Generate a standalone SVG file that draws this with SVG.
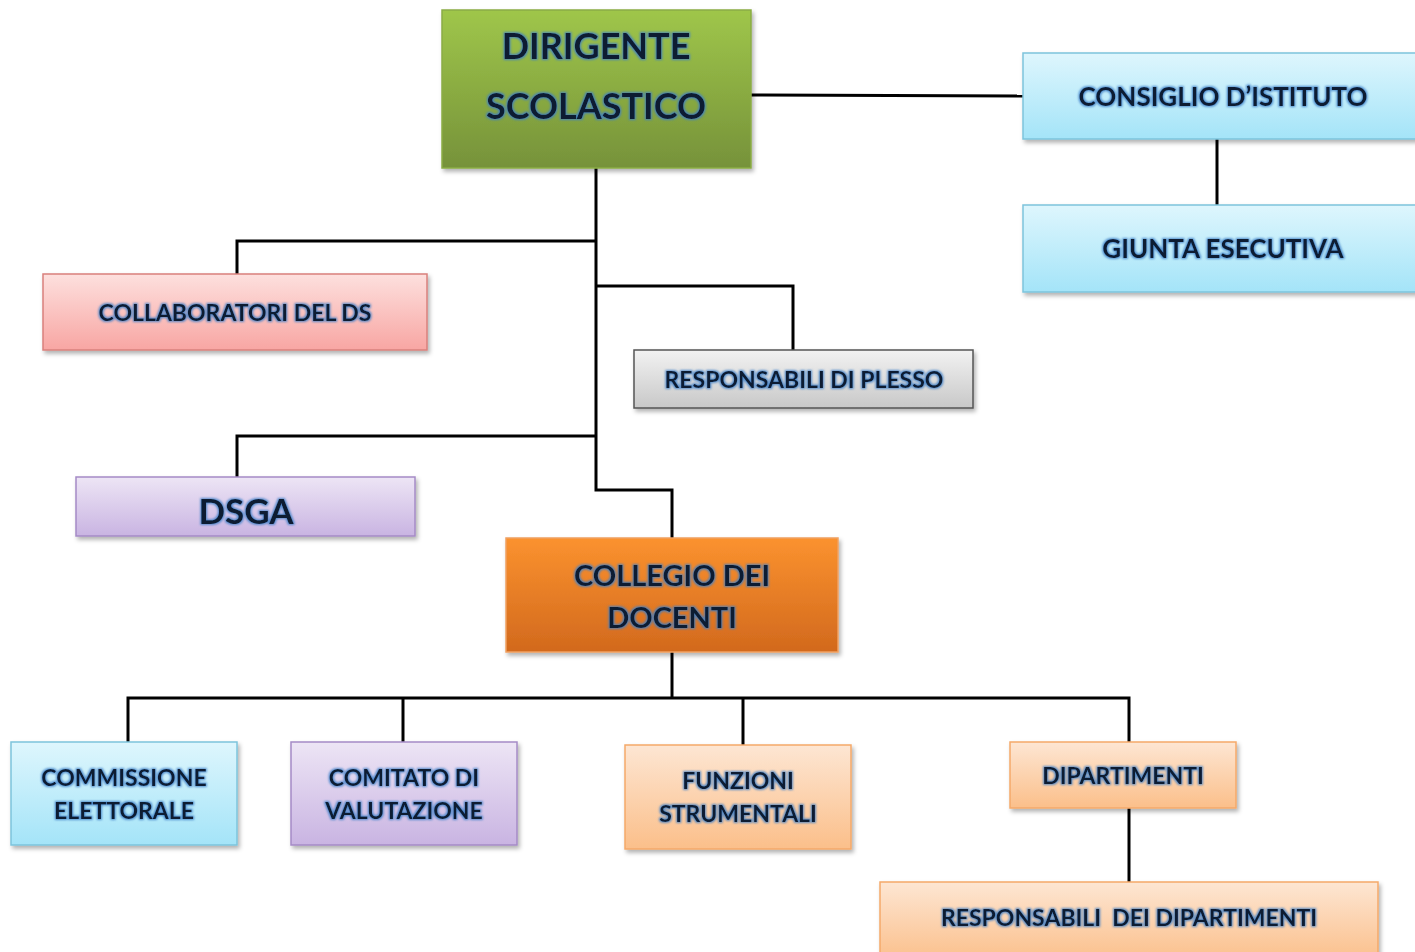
<svg xmlns="http://www.w3.org/2000/svg" width="1415" height="952" viewBox="0 0 1415 952">
<defs>
<linearGradient id="gGreen" x1="0" y1="0" x2="0" y2="1"><stop offset="0" stop-color="#9fc64a"/><stop offset="1" stop-color="#76923a"/></linearGradient>
<linearGradient id="gBlue" x1="0" y1="0" x2="0" y2="1"><stop offset="0" stop-color="#def6fd"/><stop offset="1" stop-color="#a4e4f8"/></linearGradient>
<linearGradient id="gRed" x1="0" y1="0" x2="0" y2="1"><stop offset="0" stop-color="#fde0de"/><stop offset="1" stop-color="#f8a6a3"/></linearGradient>
<linearGradient id="gGray" x1="0" y1="0" x2="0" y2="1"><stop offset="0" stop-color="#f2f2f2"/><stop offset="1" stop-color="#c8c8c8"/></linearGradient>
<linearGradient id="gPurple" x1="0" y1="0" x2="0" y2="1"><stop offset="0" stop-color="#ede5f5"/><stop offset="1" stop-color="#c9b4e2"/></linearGradient>
<linearGradient id="gOrange" x1="0" y1="0" x2="0" y2="1"><stop offset="0" stop-color="#fb922f"/><stop offset="1" stop-color="#d2691d"/></linearGradient>
<linearGradient id="gPeach" x1="0" y1="0" x2="0" y2="1"><stop offset="0" stop-color="#fde6d3"/><stop offset="1" stop-color="#fbbf8a"/></linearGradient>
<filter id="shadow" x="-5%" y="-5%" width="110%" height="120%"><feDropShadow dx="2" dy="3" stdDeviation="2" flood-color="#000" flood-opacity="0.3"/></filter>
<filter id="glow" x="-10%" y="-20%" width="120%" height="140%"><feMorphology in="SourceAlpha" operator="dilate" radius="1.2" result="d"/><feGaussianBlur in="d" stdDeviation="1" result="b"/><feFlood flood-color="#3d7fc8" flood-opacity="0.85"/><feComposite in2="b" operator="in" result="g"/><feMerge><feMergeNode in="g"/><feMergeNode in="SourceGraphic"/></feMerge></filter>
</defs>
<style>
.box{stroke-width:1.5;filter:url(#shadow)}
.t{font-family:Lato,"Open Sans","Liberation Sans",sans-serif;font-weight:bold;fill:#0d1a33;text-anchor:middle;filter:url(#glow)}
.c{fill:none;stroke:#000;stroke-width:3}
</style>
<g id="connectors">
<path class="c" d="M751,95 L1023,96"/>
<path class="c" d="M1217,139 V205"/>
<path class="c" d="M596,168 V490 H672 V538"/>
<path class="c" d="M596,241 H237 V274"/>
<path class="c" d="M596,286 H793 V350"/>
<path class="c" d="M596,436 H237 V477"/>
<path class="c" d="M672,652 V698"/>
<path class="c" d="M128,742 V698 H1129 V742"/>
<path class="c" d="M403,698 V742"/>
<path class="c" d="M743,698 V745"/>
<path class="c" d="M1129,808 V882"/>
</g>
<g id="dirigente">
<rect class="box" x="442" y="10" width="309" height="158" fill="url(#gGreen)" stroke="#8aac45"/>
<text class="t" x="596" y="59" font-size="36">DIRIGENTE</text>
<text class="t" x="596" y="119" font-size="36">SCOLASTICO</text>
</g>
<g id="consiglio">
<rect class="box" x="1023" y="53" width="400" height="86" fill="url(#gBlue)" stroke="#7dc4dc"/>
<text class="t" x="1223" y="106" font-size="26">CONSIGLIO D’ISTITUTO</text>
</g>
<g id="giunta">
<rect class="box" x="1023" y="205" width="400" height="87" fill="url(#gBlue)" stroke="#7dc4dc"/>
<text class="t" x="1223" y="258" font-size="26">GIUNTA ESECUTIVA</text>
</g>
<g id="collaboratori">
<rect class="box" x="43" y="274" width="384" height="76" fill="url(#gRed)" stroke="#d9807c"/>
<text class="t" x="235" y="321" font-size="23">COLLABORATORI DEL DS</text>
</g>
<g id="plesso">
<rect class="box" x="634" y="350" width="339" height="58" fill="url(#gGray)" stroke="#555"/>
<text class="t" x="804" y="388" font-size="23">RESPONSABILI DI PLESSO</text>
</g>
<g id="dsga">
<rect class="box" x="76" y="477" width="339" height="59" fill="url(#gPurple)" stroke="#a58bc6"/>
<text class="t" x="246" y="524" font-size="35">DSGA</text>
</g>
<g id="collegio">
<rect class="box" x="506" y="538" width="332" height="114" fill="url(#gOrange)" stroke="#f0a060"/>
<text class="t" x="672" y="586" font-size="29">COLLEGIO DEI</text>
<text class="t" x="672" y="628" font-size="29">DOCENTI</text>
</g>
<g id="commissione">
<rect class="box" x="11" y="742" width="226" height="103" fill="url(#gBlue)" stroke="#7dc4dc"/>
<text class="t" x="124" y="786" font-size="23">COMMISSIONE</text>
<text class="t" x="124" y="819" font-size="23">ELETTORALE</text>
</g>
<g id="comitato">
<rect class="box" x="291" y="742" width="226" height="103" fill="url(#gPurple)" stroke="#a58bc6"/>
<text class="t" x="404" y="786" font-size="23">COMITATO DI</text>
<text class="t" x="404" y="819" font-size="23">VALUTAZIONE</text>
</g>
<g id="funzioni">
<rect class="box" x="625" y="745" width="226" height="104" fill="url(#gPeach)" stroke="#f5a96a"/>
<text class="t" x="738" y="789" font-size="23">FUNZIONI</text>
<text class="t" x="738" y="822" font-size="23">STRUMENTALI</text>
</g>
<g id="dipartimenti">
<rect class="box" x="1010" y="742" width="226" height="66" fill="url(#gPeach)" stroke="#f5a96a"/>
<text class="t" x="1123" y="784" font-size="23">DIPARTIMENTI</text>
</g>
<g id="responsabili-dipartimenti">
<rect class="box" x="880" y="882" width="498" height="80" fill="url(#gPeach)" stroke="#f5a96a"/>
<text class="t" x="1129" y="926" font-size="23" xml:space="preserve">RESPONSABILI  DEI DIPARTIMENTI</text>
</g>
</svg>
